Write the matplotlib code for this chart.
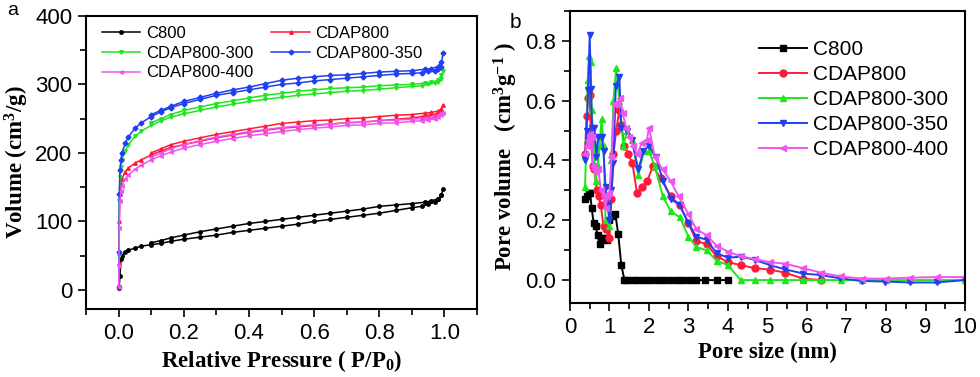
import matplotlib
matplotlib.use('Agg')
import matplotlib.pyplot as plt
from matplotlib.ticker import MultipleLocator

plt.rcParams['font.family'] = ['Liberation Sans', 'DejaVu Sans']
plt.rcParams['mathtext.fontset'] = 'custom'
plt.rcParams['mathtext.rm'] = 'Liberation Serif:bold'
plt.rcParams['mathtext.it'] = 'Liberation Serif:bold'
plt.rcParams['mathtext.bf'] = 'Liberation Serif:bold'

# ---------- (a) N2 isotherms ----------
ads_p = [0.0003, 0.001, 0.002, 0.004, 0.007, 0.01, 0.02, 0.03, 0.05, 0.07, 0.1, 0.13,
         0.16, 0.2, 0.25, 0.3, 0.35, 0.4, 0.45, 0.5, 0.55, 0.6, 0.65, 0.7, 0.75, 0.8,
         0.85, 0.9, 0.93, 0.95, 0.97, 0.98, 0.99, 0.995]
des_p = [0.99, 0.98, 0.96, 0.94, 0.9, 0.85, 0.8, 0.75, 0.7, 0.65, 0.6, 0.55, 0.5,
         0.45, 0.4, 0.35, 0.3, 0.25, 0.2, 0.16, 0.13, 0.1]

c800_ads = [3, 4, 5, 20, 45, 50, 55, 58, 61, 64, 66, 68, 71, 74, 77, 80, 84, 87, 90, 93,
            96, 100, 103, 106, 109, 112, 116, 120, 122, 125, 128, 132, 138, 147]
c800_des = [138, 133, 130, 128, 126, 124, 122, 118, 115, 112, 109, 106, 103, 100, 97,
            93, 89, 85, 80, 76, 72, 69]

cdap_ads = [5, 40, 100, 140, 155, 162, 172, 178, 185, 190, 197, 203, 208, 212, 217, 222,
            226, 230, 233, 236, 238, 240, 242, 244, 245, 247, 249, 251, 253, 254, 256,
            258, 262, 270]
cdap_des = [264, 261, 259, 258, 256, 255, 253, 251, 250, 248, 247, 245, 243, 239, 235,
            231, 227, 222, 217, 212, 206, 200]

c300_ads = [5, 50, 130, 165, 180, 190, 203, 212, 224, 232, 240, 247, 252, 257, 262, 267,
            271, 275, 278, 281, 284, 286, 288, 290, 291, 293, 295, 297, 298, 300, 302,
            304, 308, 320]
c300_des = [313, 306, 303, 302, 300, 299, 298, 296, 295, 294, 292, 290, 287, 284, 280,
            276, 272, 267, 262, 256, 250, 244]

c350_ads = [5, 55, 140, 175, 190, 200, 214, 223, 236, 244, 253, 260, 266, 272, 278, 284,
            288, 292, 296, 300, 302, 305, 307, 309, 311, 313, 315, 316, 317, 319, 320,
            322, 326, 346]
c350_des = [333, 326, 323, 322, 320, 319, 318, 316, 314, 313, 311, 309, 306, 301, 296,
            292, 287, 281, 275, 268, 262, 256]

c400_ads = [5, 35, 90, 130, 145, 152, 162, 168, 176, 182, 190, 196, 201, 207, 212, 217,
            221, 225, 228, 231, 234, 236, 238, 240, 241, 243, 244, 246, 247, 248, 250,
            252, 255, 258]
c400_des = [258, 255, 252, 251, 249, 248, 247, 245, 244, 242, 241, 239, 237, 234, 231,
            227, 223, 218, 212, 206, 200, 194]

# ---------- (b) pore size distribution ----------
c800_x = [0.38, 0.43, 0.47, 0.51, 0.55, 0.6, 0.65, 0.7, 0.75, 0.8, 0.87, 0.94, 1.0, 1.08,
          1.15, 1.22, 1.3, 1.38, 1.45, 1.6, 1.73, 1.87, 2.03, 2.2, 2.36, 2.53, 2.7, 2.87,
          3.04, 3.2, 3.42, 3.71, 4.0]
c800_y = [0.27, 0.28, 0.29, 0.29, 0.24, 0.19, 0.18, 0.15, 0.12, 0.14, 0.14, 0.135, 0.2,
          0.215, 0.22, 0.155, 0.05, 0.0, 0.0, 0.0, 0.0, 0.0, 0.0, 0.0, 0.0, 0.0, 0.0, 0.0,
          0.0, 0.0, 0.0, 0.0, 0.0]

cdap_x = [0.38, 0.42, 0.46, 0.5, 0.53, 0.58, 0.62, 0.68, 0.73, 0.78, 0.85, 0.9, 1.0,
          1.05, 1.1, 1.17, 1.25, 1.3, 1.38, 1.48, 1.58, 1.7, 1.82, 1.95, 2.1, 2.3, 2.55,
          2.78, 3.0, 3.2, 3.46, 3.71, 4.0, 4.32, 4.68, 5.06, 5.44, 5.9, 6.35]
cdap_y = [0.42, 0.55, 0.61, 0.62, 0.47, 0.38, 0.37, 0.3, 0.28, 0.25, 0.18, 0.17, 0.14,
          0.27, 0.42, 0.5, 0.57, 0.52, 0.45, 0.42, 0.39, 0.29, 0.31, 0.33, 0.38, 0.34,
          0.28, 0.25, 0.19, 0.13, 0.12, 0.08, 0.06, 0.05, 0.04, 0.035, 0.025, 0.005, 0.0]

c300_x = [0.38, 0.42, 0.45, 0.48, 0.52, 0.55, 0.6, 0.65, 0.7, 0.75, 0.8, 0.85, 0.9, 1.0,
          1.05, 1.1, 1.17, 1.25, 1.35, 1.45, 1.58, 1.73, 1.87, 2.0, 2.15, 2.35, 2.55,
          2.78, 3.0, 3.2, 3.46, 3.71, 4.0, 4.32, 4.68, 5.06, 5.44, 5.9, 6.35, 6.85, 7.4,
          8.0, 8.6, 9.3, 10.0]
c300_y = [0.31, 0.47, 0.67, 0.75, 0.73, 0.57, 0.45, 0.33, 0.38, 0.45, 0.54, 0.45, 0.2,
          0.18, 0.4, 0.6, 0.71, 0.6, 0.45, 0.5, 0.47, 0.35, 0.43, 0.43, 0.38, 0.28, 0.23,
          0.21, 0.145, 0.11, 0.1, 0.065, 0.05, 0.0, 0.0, 0.0, 0.0, 0.0, 0.0, 0.0, 0.0,
          0.0, 0.0, 0.0, 0.0]

c350_x = [0.38, 0.42, 0.46, 0.5, 0.53, 0.56, 0.62, 0.67, 0.72, 0.8, 0.85, 0.9, 0.95, 1.0,
          1.05, 1.1, 1.16, 1.25, 1.3, 1.45, 1.56, 1.73, 1.86, 2.0, 2.18, 2.36, 2.57, 2.78,
          3.0, 3.2, 3.46, 3.71, 4.0, 4.32, 4.68, 5.06, 5.44, 5.9, 6.33, 6.84, 7.38, 7.97,
          8.62, 9.28, 10.0]
c350_y = [0.4, 0.5, 0.635, 0.82, 0.64, 0.51, 0.51, 0.41, 0.48, 0.48, 0.43, 0.31, 0.25,
          0.2, 0.3, 0.39, 0.65, 0.68, 0.51, 0.5, 0.47, 0.37, 0.43, 0.45, 0.41, 0.33, 0.27,
          0.25, 0.19, 0.145, 0.135, 0.09, 0.075, 0.078, 0.068, 0.05, 0.036, 0.022, 0.017,
          0.006, -0.003, -0.005, -0.008, -0.008, 0.0]

c400_x = [0.38, 0.42, 0.46, 0.5, 0.55, 0.58, 0.62, 0.67, 0.72, 0.78, 0.85, 0.9, 0.95, 1.0,
          1.05, 1.12, 1.2, 1.27, 1.33, 1.42, 1.5, 1.6, 1.7, 1.82, 1.95, 2.0, 2.15, 2.35,
          2.55, 2.75, 3.0, 3.2, 3.46, 3.71, 4.0, 4.32, 4.68, 5.06, 5.44, 5.9, 6.35, 6.85,
          7.4, 8.0, 8.6, 9.3, 10.0]
c400_y = [0.42, 0.45, 0.47, 0.49, 0.48, 0.38, 0.37, 0.36, 0.37, 0.3, 0.28, 0.24, 0.28,
          0.29, 0.41, 0.59, 0.59, 0.61, 0.56, 0.51, 0.48, 0.45, 0.42, 0.46, 0.47, 0.51,
          0.41, 0.37, 0.33, 0.28, 0.22, 0.17, 0.15, 0.115, 0.095, 0.08, 0.07, 0.06, 0.055,
          0.04, 0.025, 0.012, 0.005, 0.005, 0.008, 0.01, 0.01]

names = ['C800', 'CDAP800', 'CDAP800-300', 'CDAP800-350', 'CDAP800-400']
colors = ['#000000', '#ff1a3a', '#1ee61e', '#2040f0', '#ee55ee']
marks_a = ['o', '^', 'v', 'D', '<']
marks_b = ['s', 'o', '^', 'v', '<']

fig = plt.figure(figsize=(9.8, 3.77), dpi=100)
ax1 = fig.add_axes([0.0878, 0.180, 0.399, 0.778])
ax2 = fig.add_axes([0.5816, 0.196, 0.4031, 0.775])

ads = [c800_ads, cdap_ads, c300_ads, c350_ads, c400_ads]
des = [c800_des, cdap_des, c300_des, c350_des, c400_des]
handles = []
for i in range(5):
    h, = ax1.plot(ads_p, ads[i], color=colors[i], marker=marks_a[i], ms=2.5, lw=1.1,
                  label=names[i])
    ax1.plot(des_p, des[i], color=colors[i], marker=marks_a[i], ms=2.5, lw=1.1)
    handles.append(h)

ax1.set_xlim(-0.1, 1.1)
ax1.set_ylim(-28, 400)
ax1.xaxis.set_major_locator(MultipleLocator(0.2))
ax1.xaxis.set_minor_locator(MultipleLocator(0.1))
ax1.yaxis.set_major_locator(MultipleLocator(100))
ax1.yaxis.set_minor_locator(MultipleLocator(50))
ax1.set_xticks([0.0, 0.2, 0.4, 0.6, 0.8, 1.0])
ax1.set_xticklabels(['0.0', '0.2', '0.4', '0.6', '0.8', '1.0'])
ax1.set_xlabel(r'Relative Pressure ( P/P$_0$)', family='Liberation Serif',
               fontweight='bold', fontsize=16.5, labelpad=3)
ax1.set_ylabel(r'Volume (cm$^3$/g)', family='Liberation Serif', fontweight='bold',
               fontsize=16.5, labelpad=3)
order = [0, 2, 4, 1, 3]
ax1.legend([handles[k] for k in order], [names[k] for k in order], ncol=2,
           loc='upper left', bbox_to_anchor=(0.04, 0.965), frameon=False, fontsize=12,
           borderpad=0, borderaxespad=0, handlelength=2.3, handletextpad=0.35,
           labelspacing=0.28, columnspacing=1.1)

xs = [c800_x, cdap_x, c300_x, c350_x, c400_x]
ys = [c800_y, cdap_y, c300_y, c350_y, c400_y]
for i in range(5):
    ax2.plot(xs[i], ys[i], color=colors[i], marker=marks_b[i], ms=5, lw=1.4,
             label=names[i])

ax2.set_xlim(0, 10)
ax2.set_ylim(-0.077, 0.9)
ax2.xaxis.set_major_locator(MultipleLocator(1))
ax2.xaxis.set_minor_locator(MultipleLocator(0.5))
ax2.yaxis.set_major_locator(MultipleLocator(0.2))
ax2.yaxis.set_minor_locator(MultipleLocator(0.1))
ax2.set_xlabel('Pore size (nm)', family='Liberation Serif', fontweight='bold',
               fontsize=16.5, labelpad=3)
ax2.set_ylabel(r'Pore volume   (cm$^{3}$g$^{-1}$ )', family='Liberation Serif',
               fontweight='bold', fontsize=16.5, labelpad=4)
ax2.legend(loc='upper left', bbox_to_anchor=(0.478, 0.9), frameon=False,
           fontsize=15, borderpad=0, borderaxespad=0, handlelength=2.3,
           handletextpad=0.3, labelspacing=0.29)

for ax in (ax1, ax2):
    for s in ax.spines.values():
        s.set_linewidth(1.5)
    ax.tick_params(which='major', direction='out', length=6, width=1.2, labelsize=16,
                   pad=4)
    ax.tick_params(which='minor', direction='out', length=4, width=1.2)

fig.text(0.007, 0.995, 'a', fontsize=14, va='top')
fig.text(0.52, 0.965, 'b', fontsize=15, va='top')

fig.savefig('out.png', dpi=100)
